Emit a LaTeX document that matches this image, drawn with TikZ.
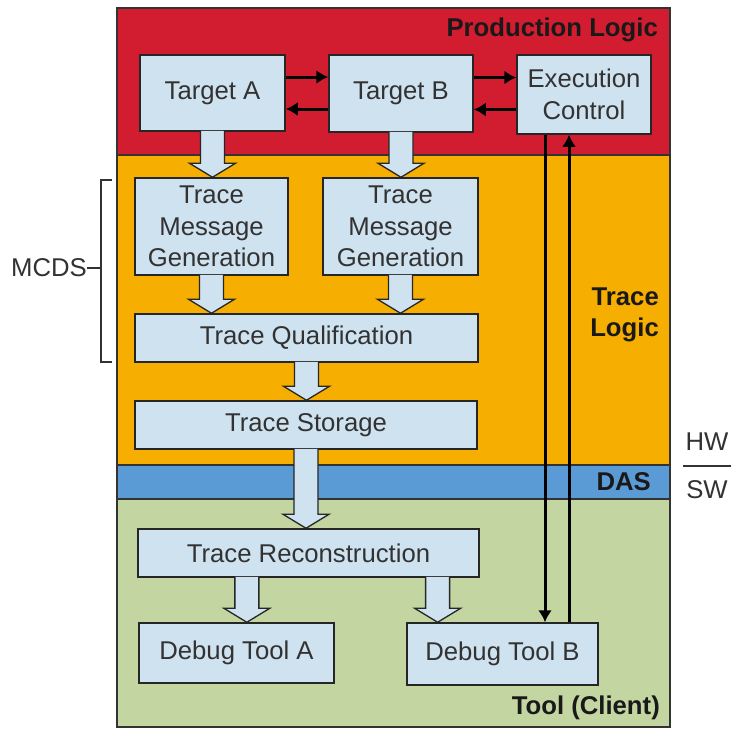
\documentclass[tikz,border=0pt]{standalone}
\usepackage{fontspec}
\setmainfont{Liberation Sans}
\usetikzlibrary{positioning}
\usetikzlibrary{arrows.meta}
\usetikzlibrary{calc}
\definecolor{prodRed}{RGB}{210,28,48}
\definecolor{traceOrange}{RGB}{246,174,0}
\definecolor{dasBlue}{RGB}{91,155,213}
\definecolor{toolGreen}{RGB}{195,213,160}
\definecolor{boxBlue}{RGB}{207,226,240}
\definecolor{textGray}{RGB}{50,50,50}

\begin{document}
\begin{tikzpicture}[x=1pt,y=-1pt,
  every node/.style={font=\fontsize{25.7}{31.5}\selectfont, inner sep=0pt},
  block/.style={draw=black!85, line width=1.5pt, fill=boxBlue, text=textGray, align=center},
  layer/.style={draw=black!80, line width=1.3pt},
  label/.style={font=\fontsize{25.7}{31.5}\selectfont\bfseries, text=black!90, anchor=east, align=right},
  thinarrow/.style={line width=3pt, -{Latex[length=12pt,width=14pt]}},
  bigarrow/.style={draw=black!85, line width=1.3pt, fill=boxBlue, line join=miter}]
\newcommand\BigArrow[2]{\filldraw[bigarrow] let \p1=(#1), \p2=(#2.north) in
  (\x1-12pt,\y1+1pt) -- (\x1-12pt,\y2+14pt) -- (\x1-23pt,\y2+14pt) -- (\x1,\y2)
  -- (\x1+23pt,\y2+14pt) -- (\x1+12pt,\y2+14pt) -- (\x1+12pt,\y1+1pt);}
\useasboundingbox (0,0) rectangle (731,729);

\fill [prodRed] (117,8) rectangle (670,155);
\fill [traceOrange] (117,155) rectangle (670,465);
\fill [dasBlue] (117,465) rectangle (670,499);
\fill [toolGreen] (117,499) rectangle (670,727);
\draw [layer] (117,155) -- (670,155);
\draw [layer] (117,465) -- (670,465);
\draw [layer] (117,499) -- (670,499);
\draw [layer] (117,8) rectangle (670,727);

\node [label] (prod) at (658,30) {Production Logic};
\node [label] (tlogic) at (659,315) {Trace\\Logic};
\node [label] (das) at (651,482) {DAS};
\node [label] (tool) at (660,708) {Tool (Client)};

\node [block, minimum width=145, minimum height=76] (ta) at (212.5,93) {Target A};
\node [block, minimum width=144, minimum height=77] (tb) at (401,93.5) {Target B};
\node [block, minimum width=134, minimum height=79] (ec) at (584,94.5) {Execution\\Control};
\node [block, minimum width=153, minimum height=97] (tmga) at (211.5,226.5) {Trace\\Message\\Generation};
\node [block, minimum width=155, minimum height=97] (tmgb) at (400.5,226.5) {Trace\\Message\\Generation};
\node [block, minimum width=343, minimum height=48] (tq) at (306.5,338) {Trace Qualification};
\node [block, minimum width=342, minimum height=48] (ts) at (306,425) {Trace Storage};
\node [block, minimum width=341, minimum height=48] (tr) at (308.5,553) {Trace Reconstruction};
\node [block, minimum width=195, minimum height=60] (dta) at (236.5,653) {Debug Tool A};
\node [block, minimum width=191, minimum height=62] (dtb) at (502.5,654) {Debug Tool B};

\BigArrow{ta.south}{tmga}
\BigArrow{tb.south}{tmgb}
\BigArrow{tmga.south}{tq}
\BigArrow{tmgb.south}{tq}
\BigArrow{tq.south}{ts}
\BigArrow{ts.south}{tr}
\BigArrow{$(tr.south west)!0.32!(tr.south east)$}{dta}
\BigArrow{$(tr.south west)!0.877!(tr.south east)$}{dtb}

\draw [thinarrow] ([yshift=16pt]ta.east) -- ([yshift=16pt]ta.east -| tb.west);
\draw [thinarrow] ([yshift=-16pt]ta.east -| tb.west) -- ([yshift=-16pt]ta.east);
\draw [thinarrow] ([yshift=16pt]tb.east) -- ([yshift=16pt]tb.east -| ec.west);
\draw [thinarrow] ([yshift=-16pt]tb.east -| ec.west) -- ([yshift=-16pt]tb.east);
\draw [thinarrow] ([xshift=-39pt]ec.south) -- ([xshift=-39pt]ec.south |- dtb.north);
\draw [thinarrow] ([xshift=-15pt]ec.south |- dtb.north) -- ([xshift=-15pt]ec.south);

\node [text=textGray, anchor=east] (mcds) at (87,268) {MCDS};
\coordinate (brace) at (101,268);
\draw [line width=1.3pt, textGray] (112,180) -- (101,180) -- (101,362) -- (112,362);
\draw [line width=1.3pt, textGray] (mcds.east) -- (brace);

\node [text=textGray] (hw) at (707,442) {HW};
\node [text=textGray] (sw) at (707,490) {SW};
\draw [line width=1.3pt, textGray] (683,466) -- (731,466);
\end{tikzpicture}
\end{document}
